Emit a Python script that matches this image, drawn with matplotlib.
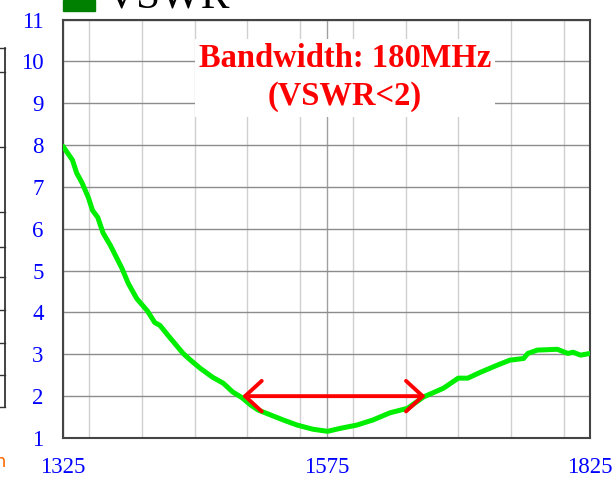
import matplotlib
matplotlib.use("Agg")
import matplotlib.pyplot as plt
from matplotlib.patches import Rectangle
from matplotlib.lines import Line2D
from matplotlib.ticker import MultipleLocator

plt.rcParams['font.family'] = ['Liberation Serif', 'DejaVu Serif']

# VSWR data
freq = [1325, 1334, 1338, 1343, 1349, 1353, 1358, 1363, 1370, 1374, 1381, 1387,
        1395, 1405, 1412, 1417, 1427, 1439, 1446, 1455, 1467, 1477, 1486, 1495,
        1503, 1510, 1522, 1534, 1547, 1562, 1576, 1588, 1604, 1619, 1635, 1652,
        1667, 1686, 1700, 1709, 1721, 1737, 1749, 1762, 1766, 1775, 1794, 1804,
        1809, 1816, 1825]
vswr = [7.97, 7.64, 7.33, 7.1, 6.75, 6.44, 6.27, 5.9, 5.6, 5.4, 5.05, 4.69,
        4.33, 4.04, 3.76, 3.69, 3.38, 3.02, 2.86, 2.67, 2.45, 2.31, 2.1, 1.96,
        1.79, 1.67, 1.55, 1.43, 1.31, 1.21, 1.16, 1.23, 1.31, 1.43, 1.6, 1.71,
        1.98, 2.19, 2.43, 2.43, 2.57, 2.74, 2.86, 2.9, 3.02, 3.1, 3.12, 3.02,
        3.05, 2.98, 3.02]
bw_start = 1495
bw_stop = 1669
bw_level = 2
xticks = [1325, 1575, 1825]

fig = plt.figure(figsize=(6.13, 4.82), dpi=100)
ax = fig.add_axes([63/613, 1-438/482, (590-63)/613, (438-19.5)/482])

ax.plot(freq, vswr, color="#00ee00", lw=3.6, solid_capstyle="round",
        solid_joinstyle="round", zorder=3)

ax.annotate("", xy=(bw_start, bw_level), xytext=(bw_stop, bw_level),
            arrowprops=dict(arrowstyle="<->,head_length=0.6,head_width=0.55",
                            color="red", lw=2.8, mutation_scale=20,
                            shrinkA=0, shrinkB=0), zorder=4)

ax.set_xlim(1325, 1825)
ax.set_ylim(1, 11)
ax.set_xticks(xticks)
ax.xaxis.set_minor_locator(MultipleLocator(50))
ax.yaxis.set_major_locator(MultipleLocator(1))
ax.tick_params(length=0, which="both", labelsize=16.5, labelcolor="blue")
ax.tick_params(axis="y", pad=14)
ax.tick_params(axis="x", pad=14)
ax.grid(True, axis="y", color="#8c8c8c", lw=1.0)
ax.grid(True, axis="x", which="minor", color="#d0d0d0", lw=1.0)
ax.grid(True, axis="x", which="major", color="#a0a0a0", lw=1.0)
for s in ax.spines.values():
    s.set_color("#444444")
    s.set_linewidth(1.5)

ax.text(0.535, 0.861, "Bandwidth: 180MHz\n(VSWR<2)", transform=ax.transAxes,
        ha="center", va="center", color="red", fontsize=23.5, fontweight="bold",
        linespacing=1.3,
        bbox=dict(facecolor="white", edgecolor="none", pad=3), zorder=5)

# legend cut at top of the picture
fig.patches.append(Rectangle((63/613, 1-11/482), 32/613, 11/482,
                             transform=fig.transFigure, color="#008000"))
fig.text(105/613, 1-7/482, "VSWR", fontsize=31, color="black",
         va="baseline", ha="left")

# remains of a neighbouring table at the left edge
fig.lines.append(Line2D([5/613, 5/613], [1-48/482, 1-407/482],
                        transform=fig.transFigure, color="#222222", lw=1.2))
for yy in [48, 72, 147, 212, 247, 277, 310, 343, 375, 407]:
    fig.lines.append(Line2D([0, 5/613], [1-yy/482, 1-yy/482],
                            transform=fig.transFigure, color="#333333", lw=1.0))
fig.text(0, 1-462/482, "n", fontsize=13, color="#ff6600", ha="center",
         va="center", family="DejaVu Sans")

fig.savefig("out.png", dpi=100)
